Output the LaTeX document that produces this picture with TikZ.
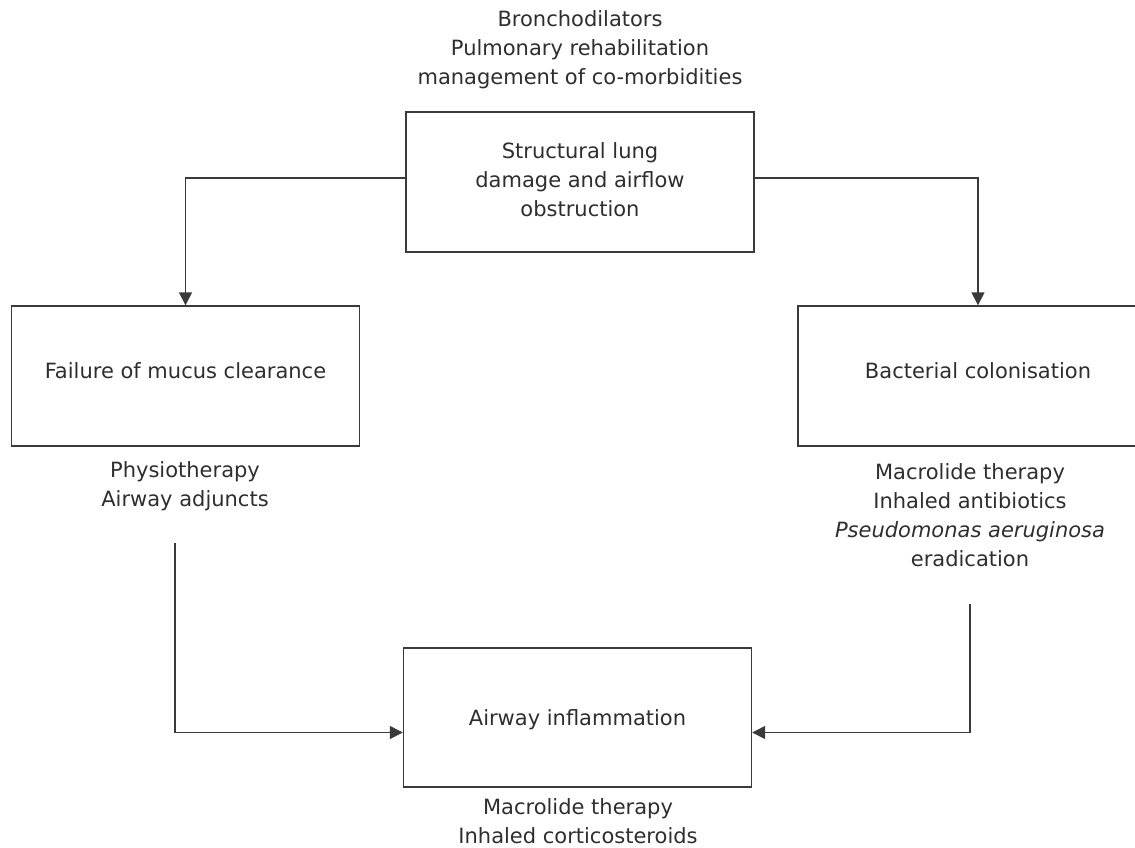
\documentclass[tikz,border=0pt]{standalone}
\usepackage{fontspec}
\setmainfont{DejaVu Sans}
\usetikzlibrary{arrows.meta,calc}
\definecolor{txt}{HTML}{2E2E2E}
\definecolor{ln}{HTML}{3A3A3A}
\tikzset{
  box/.style={draw=ln, line width=1.4pt, minimum width=348pt, minimum height=140pt, inner sep=0pt, align=center, text=txt},
  lbl/.style={align=center, text=txt, inner sep=0pt},
  arr/.style={draw=ln, line width=1.4pt, -{Triangle[length=13pt,width=13pt]}},
}
\begin{document}
\begin{tikzpicture}[x=1pt,y=-1pt, font=\fontsize{21}{29}\selectfont]
\useasboundingbox (0,0) rectangle (1135,847);
\node[box] (top) at (580,182) {Structural lung\\damage and airflow\\obstruction\vphantom{y}};
\node[box] (left) at (185.5,376) {};
\node[box, minimum width=360pt] (right) at (978,376) {};
\node[box, minimum height=139pt] (bot) at (577.5,717.5) {};
\node[lbl] (lefttxt) at (185.5,371) {Failure of mucus clearance};
\node[lbl] (righttxt) at (978,371) {Bacterial colonisation};
\node[lbl] (bottxt) at (577.5,720) {Airway inflammation};

\node[lbl] (toplbl) at (580,50) {Bronchodilators\\Pulmonary rehabilitation\\management of co-morbidities};
\node[lbl] (leftlbl) at (185,486) {Physiotherapy\\Airway adjuncts};
\node[lbl] (rightlbl) at (970,515) {Macrolide therapy\\Inhaled antibiotics\\\textit{Pseudomonas aeruginosa}\\eradication};
\node[lbl] (botlbl) at (578,821) {Macrolide therapy\\Inhaled corticosteroids};

\coordinate (ls) at (175,543);
\coordinate (rs) at (970,604);

\draw[arr] ($(top.west)+(0,-4)$) -| (left.north);
\draw[arr] ($(top.east)+(0,-4)$) -| (right.north);
\draw[arr] (ls) |- ($(bot.west)+(0,15)$);
\draw[arr] (rs) |- ($(bot.east)+(0,15)$);
\end{tikzpicture}
\end{document}
